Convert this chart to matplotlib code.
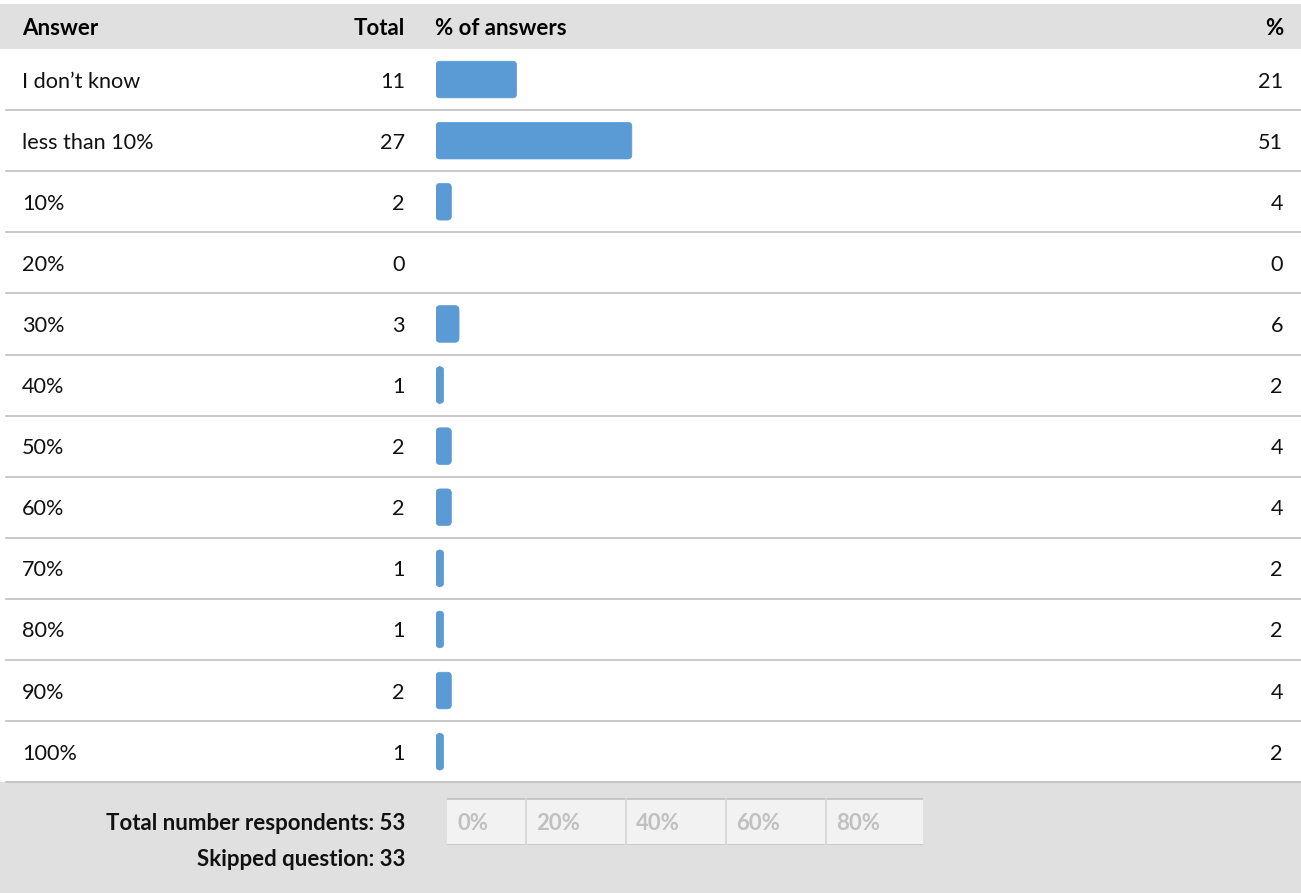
import matplotlib.pyplot as plt
from matplotlib.patches import FancyBboxPatch

answers = ['I don\u2019t know', 'less than 10%', '10%', '20%', '30%', '40%',
           '50%', '60%', '70%', '80%', '90%', '100%']
totals = [11, 27, 2, 0, 3, 1, 2, 2, 1, 1, 2, 1]
percents = [21, 51, 4, 0, 6, 2, 4, 4, 2, 2, 4, 2]
scale_ticks = [0, 20, 40, 60, 80]
respondents = 53
skipped = 33

plt.rcParams['font.family'] = ['Lato', 'DejaVu Sans']
W, H = 1301, 893
fig = plt.figure(figsize=(W / 100, H / 100), dpi=100)

# background axes in pixel coordinates
bg = fig.add_axes([0, 0, 1, 1])
bg.set_xlim(0, W)
bg.set_ylim(H, 0)
bg.axis('off')

top, row_h = 49, 61.1
n = len(answers)
bottom = top + n * row_h
grey = '#e0e0e0'
line_c = '#bfbfbf'
fs = 15.6
fsb = 16.0
txt_c = '#111111'
dy = 2  # small downward nudge for text

bg.fill_between([0, W], 4, top, color=grey, lw=0)
bg.fill_between([0, W], bottom, H, color=grey, lw=0)
bg.plot([6, W], [bottom, bottom], color=line_c, lw=1.2)

hy = (4 + top) / 2 + dy
bg.text(22, hy, 'Answer', fontsize=fsb, fontweight='bold', va='center')
bg.text(405, hy, 'Total', fontsize=fsb, fontweight='bold', va='center', ha='right')
bg.text(435, hy, '% of answers', fontsize=fsb, fontweight='bold', va='center')
bg.text(1283, hy, '%', fontsize=fsb, fontweight='bold', va='center', ha='right')

for i, (a, t, p) in enumerate(zip(answers, totals, percents)):
    cy = top + (i + 0.5) * row_h + dy
    bg.text(22, cy, a, fontsize=fs, va='center', color=txt_c)
    bg.text(405, cy, str(t), fontsize=fs, va='center', ha='right', color=txt_c)
    bg.text(1283, cy, str(p), fontsize=fs, va='center', ha='right', color=txt_c)
    if i < n - 1:
        yl = top + (i + 1) * row_h
        bg.plot([6, W], [yl, yl], color=line_c, lw=1.2)

bg.text(405, 824, f'Total number respondents: {respondents}', fontsize=fsb,
        fontweight='bold', va='center', ha='right', color=txt_c)
bg.text(405, 859, f'Skipped question: {skipped}', fontsize=fsb,
        fontweight='bold', va='center', ha='right', color=txt_c)

# bar axes: 0..100 % over 384 px starting at x=436
ax = fig.add_axes([436 / W, 1 - bottom / H, 384 / W, n * row_h / H])
ax.set_xlim(0, 100)
ax.set_ylim(n - 0.5, -0.5)
ax.axis('off')
bars = ax.barh(range(n), percents, height=0.6, color='none')
px_x = 384 / 100
px_y = row_h
for b, p in zip(bars, percents):
    if p == 0:
        continue
    x0, y0, w, h = b.get_x(), b.get_y(), b.get_width(), b.get_height()
    r = 4 / px_x
    patch = FancyBboxPatch((x0 + r, y0 + r * px_x / px_y), w - 2 * r,
                           h - 2 * r * px_x / px_y,
                           boxstyle=f'round,pad={r}',
                           mutation_aspect=px_x / px_y,
                           fc='#5b9bd5', ec='#5b9bd5', lw=0.5)
    ax.add_patch(patch)

# scale strip at the bottom
sx0, sx1 = 447, 923
sc = fig.add_axes([sx0 / W, 1 - 845 / H, (sx1 - sx0) / W, 47 / H])
sc.set_xlim(4.2, 99.4)
sc.set_ylim(0, 1)
sc.set_facecolor('#f2f2f2')
for s in sc.spines.values():
    s.set_visible(False)
sc.set_xticks([])
sc.set_yticks([])
sc.axhline(1, color='#c4c4c4', lw=2)
sc.axhline(0, color='#c4c4c4', lw=2)
for t in scale_ticks:
    if t > 0:
        sc.axvline(t, color='#d4d4d4', lw=1.2)
    sc.text(max(t, 4.2) + 2, 0.45, f'{t}%', fontsize=fsb, fontweight='bold',
            color='#c0c0c0', va='center')

fig.savefig('out.png', dpi=100)
